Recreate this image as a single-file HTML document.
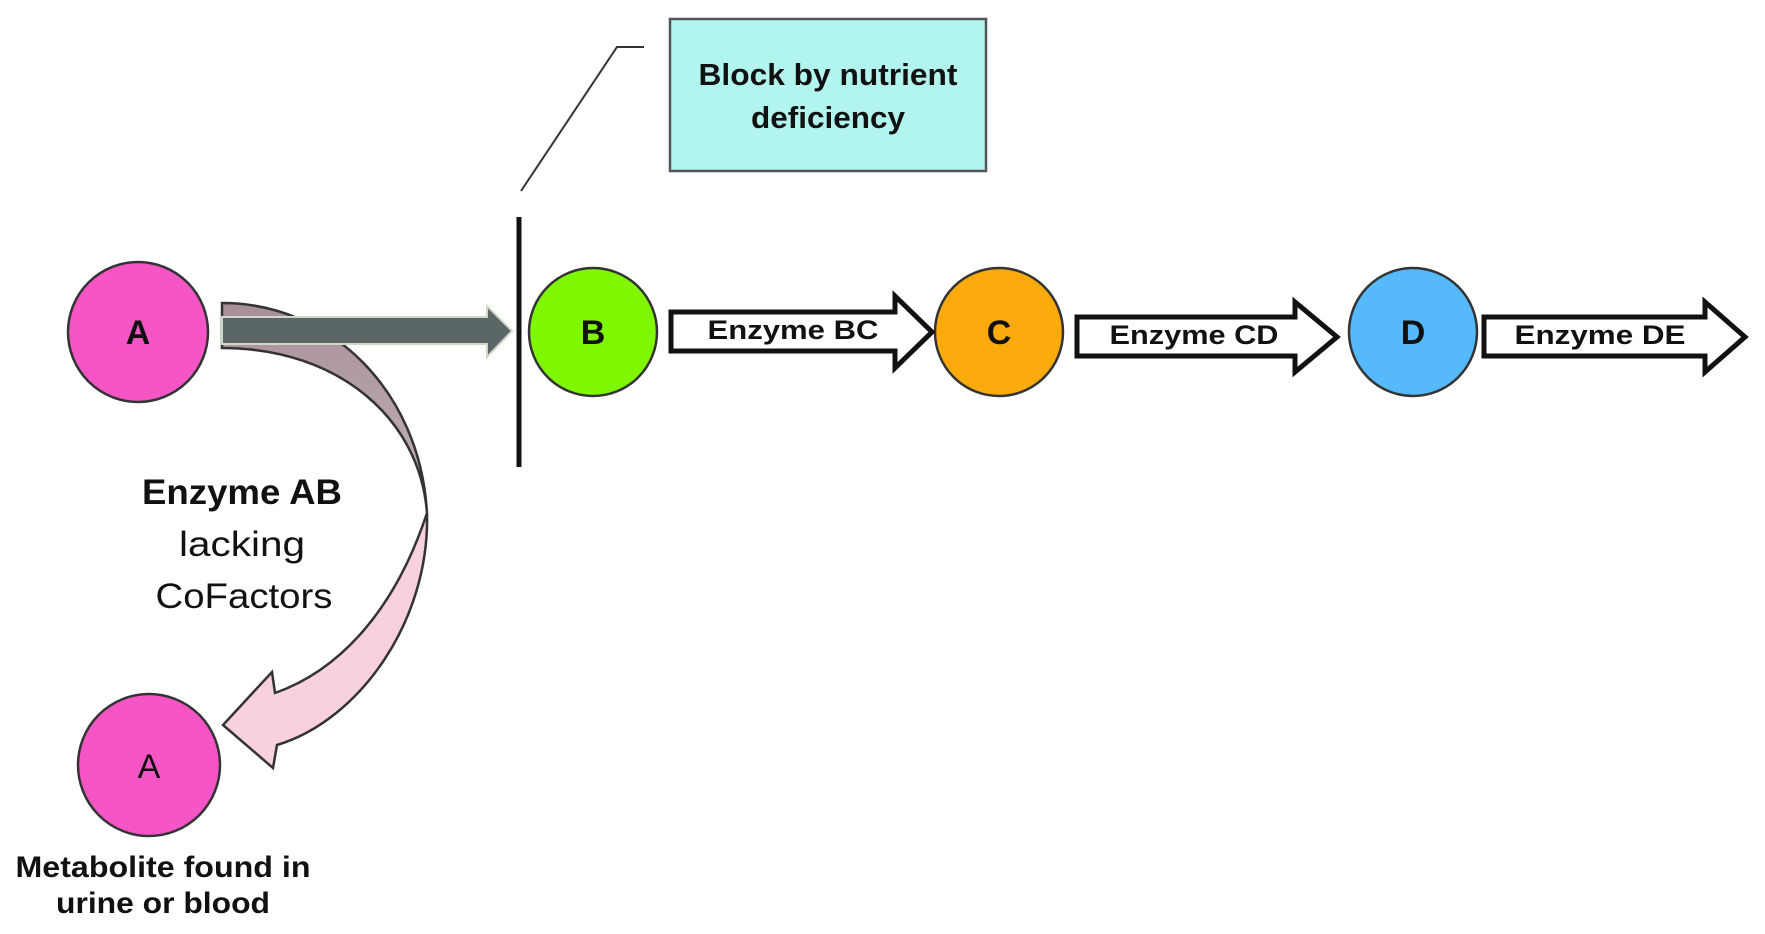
<!DOCTYPE html>
<html><head><meta charset="utf-8"><style>
html,body{margin:0;padding:0;background:#fff;}
</style></head><body>
<svg width="1765" height="934" viewBox="0 0 1765 934" xmlns="http://www.w3.org/2000/svg" style="display:block">
<defs>
<linearGradient id="g1" x1="0" y1="0" x2="0" y2="1">
<stop offset="0" stop-color="#a88f98"/><stop offset="1" stop-color="#c4b3b9"/>
</linearGradient>
</defs>
<path d="M222,303 C330,303 420,390 427,513 C420,420 340,348 222,348 Z" fill="url(#g1)" stroke="#333" stroke-width="2.5"/>
<path d="M427,513 C430,620 360,720 277,745 L273,768 L223,725 L272,672 L275,693 C340,670 395,610 427,513 Z" fill="#f8d0de" stroke="#333" stroke-width="2.5"/>
<path d="M222,317 L487,317 L487,306 L512,331 L487,357 L487,344 L222,344 Z" fill="#5a6766" stroke="#cfd8c8" stroke-width="2"/>
<polyline points="521,191 617,47 644,47" fill="none" stroke="#333" stroke-width="2"/>
<rect x="670" y="19" width="316" height="152" fill="#b2f5ee" stroke="#555" stroke-width="2.5"/>
<text x="828" y="85" text-anchor="middle" font-family="Liberation Sans, sans-serif" font-weight="bold" font-size="31" fill="#111" textLength="259" lengthAdjust="spacingAndGlyphs">Block by nutrient</text>
<text x="828" y="128" text-anchor="middle" font-family="Liberation Sans, sans-serif" font-weight="bold" font-size="31" fill="#111" textLength="154" lengthAdjust="spacingAndGlyphs">deficiency</text>
<line x1="519" y1="217" x2="519" y2="467" stroke="#111" stroke-width="5"/>
<circle cx="138" cy="332" r="70" fill="#f656c5" stroke="#333" stroke-width="2.5"/>
<text x="138" y="344" text-anchor="middle" font-family="Liberation Sans, sans-serif" font-weight="bold" font-size="34" fill="#111">A</text>
<circle cx="593" cy="332" r="64" fill="#7ff700" stroke="#333" stroke-width="2.5"/>
<text x="593" y="344" text-anchor="middle" font-family="Liberation Sans, sans-serif" font-weight="bold" font-size="34" fill="#111">B</text>
<circle cx="999" cy="332" r="64" fill="#faaa0a" stroke="#333" stroke-width="2.5"/>
<text x="999" y="344" text-anchor="middle" font-family="Liberation Sans, sans-serif" font-weight="bold" font-size="34" fill="#111">C</text>
<circle cx="1413" cy="332" r="64" fill="#55b9fb" stroke="#333" stroke-width="2.5"/>
<text x="1413" y="344" text-anchor="middle" font-family="Liberation Sans, sans-serif" font-weight="bold" font-size="34" fill="#111">D</text>
<circle cx="149" cy="765" r="71" fill="#f656c5" stroke="#333" stroke-width="2.5"/>
<text x="149" y="778" text-anchor="middle" font-family="Liberation Sans, sans-serif" font-size="34" fill="#111">A</text>
<path d="M671,312 L895,312 L895,296 L932,332 L895,368 L895,351 L671,351 Z" fill="#fff" stroke="#111" stroke-width="5"/>
<text x="793" y="339" text-anchor="middle" font-family="Liberation Sans, sans-serif" font-weight="bold" font-size="27" fill="#111" textLength="171" lengthAdjust="spacingAndGlyphs">Enzyme BC</text>
<path d="M1077,317 L1295,317 L1295,302 L1337,337 L1295,372 L1295,356 L1077,356 Z" fill="#fff" stroke="#111" stroke-width="5"/>
<text x="1194" y="344" text-anchor="middle" font-family="Liberation Sans, sans-serif" font-weight="bold" font-size="27" fill="#111" textLength="169" lengthAdjust="spacingAndGlyphs">Enzyme CD</text>
<path d="M1484,317 L1705,317 L1705,302 L1745,337 L1705,372 L1705,356 L1484,356 Z" fill="#fff" stroke="#111" stroke-width="5"/>
<text x="1600" y="344" text-anchor="middle" font-family="Liberation Sans, sans-serif" font-weight="bold" font-size="27" fill="#111" textLength="171" lengthAdjust="spacingAndGlyphs">Enzyme DE</text>
<text x="242" y="504" text-anchor="middle" font-family="Liberation Sans, sans-serif" font-weight="bold" font-size="35" fill="#111" textLength="200" lengthAdjust="spacingAndGlyphs">Enzyme AB</text>
<text x="242" y="556" text-anchor="middle" font-family="Liberation Sans, sans-serif" font-size="35" fill="#111" textLength="126" lengthAdjust="spacingAndGlyphs">lacking</text>
<text x="244" y="608" text-anchor="middle" font-family="Liberation Sans, sans-serif" font-size="35" fill="#111" textLength="177" lengthAdjust="spacingAndGlyphs">CoFactors</text>
<text x="163" y="877" text-anchor="middle" font-family="Liberation Sans, sans-serif" font-weight="bold" font-size="30" fill="#111" textLength="295" lengthAdjust="spacingAndGlyphs">Metabolite found in</text>
<text x="163" y="913" text-anchor="middle" font-family="Liberation Sans, sans-serif" font-weight="bold" font-size="30" fill="#111" textLength="214" lengthAdjust="spacingAndGlyphs">urine or blood</text>
</svg>
</body></html>
